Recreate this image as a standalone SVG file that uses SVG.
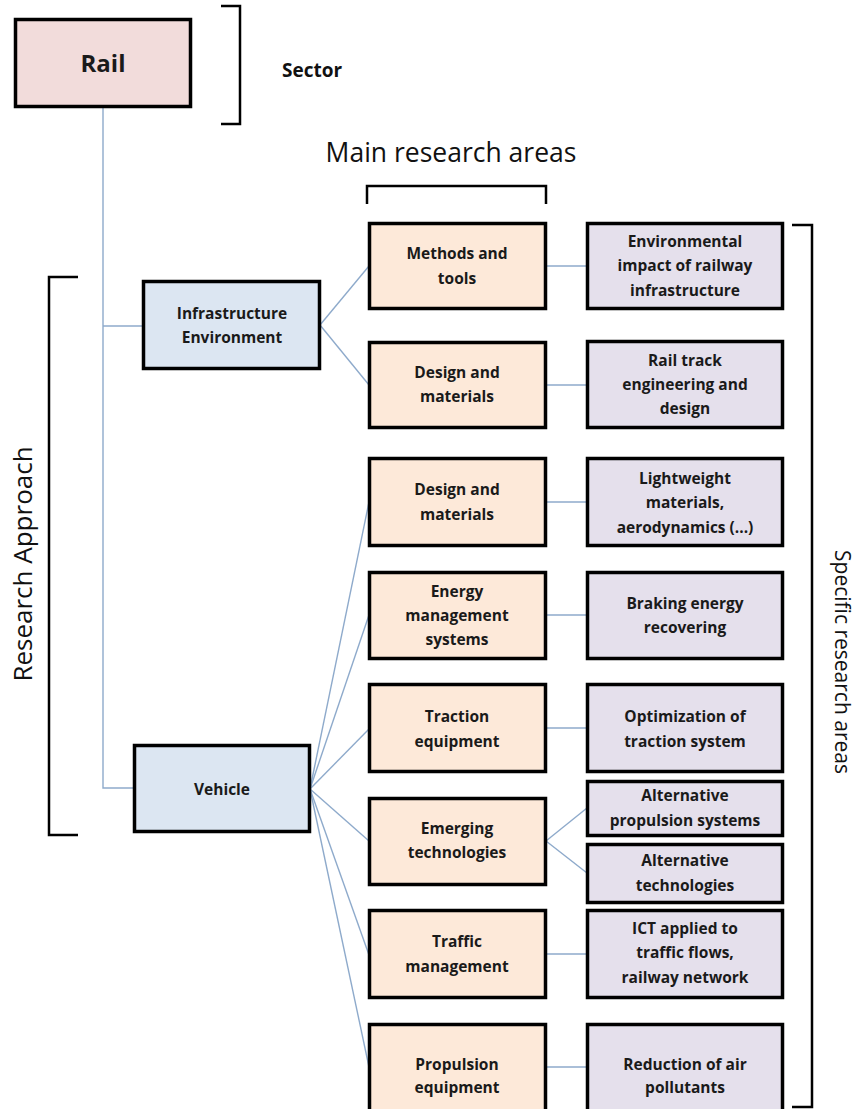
<svg xmlns="http://www.w3.org/2000/svg" width="860" height="1109" viewBox="0 0 860 1109">
<style>
.box{stroke:#000;stroke-width:3.5}
.rail{fill:#f2dcdb}
.blue{fill:#dce6f2}
.org{fill:#fde9d9}
.pur{fill:#e5e0ec}
.t{font-family:"Open Sans","Noto Sans",sans-serif;font-weight:700;font-size:15.5px;fill:#1a1a1a;text-anchor:middle}
.big{font-family:"Open Sans","Noto Sans",sans-serif;font-size:26px;fill:#111;font-weight:500}
.br{fill:none;stroke:#000;stroke-width:2.5}
.c{fill:none;stroke:#8eaacb;stroke-width:1.4}
</style>
<rect width="860" height="1109" fill="#fff"/>
<g id="connectors">
<polyline class="c" points="103,108 103,788 135,788"/>
<line class="c" x1="103" y1="326" x2="144" y2="326"/>
<line class="c" x1="320" y1="325" x2="369" y2="266"/>
<line class="c" x1="320" y1="325" x2="369" y2="385"/>
<line class="c" x1="310" y1="789" x2="369" y2="502"/>
<line class="c" x1="310" y1="789" x2="369" y2="615"/>
<line class="c" x1="310" y1="789" x2="369" y2="729"/>
<line class="c" x1="310" y1="789" x2="369" y2="841"/>
<line class="c" x1="310" y1="789" x2="369" y2="955"/>
<line class="c" x1="310" y1="789" x2="369" y2="1067"/>
<line class="c" x1="546" y1="266" x2="587" y2="266"/>
<line class="c" x1="546" y1="385" x2="587" y2="385"/>
<line class="c" x1="546" y1="502" x2="587" y2="502"/>
<line class="c" x1="546" y1="615" x2="587" y2="615"/>
<line class="c" x1="546" y1="728" x2="587" y2="728"/>
<line class="c" x1="546" y1="841" x2="587" y2="808"/>
<line class="c" x1="546" y1="841" x2="587" y2="873"/>
<line class="c" x1="546" y1="954" x2="587" y2="954"/>
<line class="c" x1="546" y1="1067" x2="587" y2="1067"/>
</g>
<g id="brackets">
<polyline class="br" points="221,6 240,6 240,124 221,124"/>
<polyline class="br" points="367,204 367,186 546,186 546,204"/>
<polyline class="br" points="78,277 49,277 49,835 78,835"/>
<polyline class="br" points="792,225 812,225 812,1107 792,1107"/>
</g>
<g id="labels">
<text class="big" x="282" y="77" style="font-weight:700;font-size:19px">Sector</text>
<text class="big" x="451" y="162" text-anchor="middle" style="font-size:26.5px">Main research areas</text>
<text class="big" transform="translate(32,564) rotate(-90)" text-anchor="middle">Research Approach</text>
<text class="big" transform="translate(835,662) rotate(90)" text-anchor="middle" style="font-size:21px">Specific research areas</text>
</g>
<g id="n-rail"><rect class="box rail" x="15.5" y="19.5" width="175" height="87"/><text class="t" x="103" y="72" style="font-size:24px">Rail</text></g>
<g id="n-infra"><rect class="box blue" x="143.5" y="281.5" width="176" height="87"/><text class="t" x="232" y="319">Infrastructure</text><text class="t" x="232" y="343">Environment</text></g>
<g id="n-vehicle"><rect class="box blue" x="134.5" y="745.5" width="175" height="86"/><text class="t" x="222" y="795">Vehicle</text></g>
<g id="n-methods"><rect class="box org" x="369.5" y="223.5" width="176" height="85"/><text class="t" x="457" y="259">Methods and</text><text class="t" x="457" y="284">tools</text></g>
<g id="n-design1"><rect class="box org" x="369.5" y="342.5" width="176" height="85"/><text class="t" x="457" y="378">Design and</text><text class="t" x="457" y="402">materials</text></g>
<g id="n-design2"><rect class="box org" x="369.5" y="458.5" width="176" height="87"/><text class="t" x="457" y="495">Design and</text><text class="t" x="457" y="520">materials</text></g>
<g id="n-energy"><rect class="box org" x="369.5" y="572.5" width="176" height="86"/><text class="t" x="457" y="597">Energy</text><text class="t" x="457" y="621">management</text><text class="t" x="457" y="645">systems</text></g>
<g id="n-traction"><rect class="box org" x="369.5" y="684.5" width="176" height="87"/><text class="t" x="457" y="722">Traction</text><text class="t" x="457" y="747">equipment</text></g>
<g id="n-emerging"><rect class="box org" x="369.5" y="798.5" width="176" height="86"/><text class="t" x="457" y="834">Emerging</text><text class="t" x="457" y="858">technologies</text></g>
<g id="n-traffic"><rect class="box org" x="369.5" y="910.5" width="176" height="87"/><text class="t" x="457" y="947">Traffic</text><text class="t" x="457" y="972">management</text></g>
<g id="n-propulsion"><rect class="box org" x="369.5" y="1024.5" width="176" height="90"/><text class="t" x="457" y="1070">Propulsion</text><text class="t" x="457" y="1093">equipment</text></g>
<g id="n-env"><rect class="box pur" x="587.5" y="223.5" width="195" height="85"/><text class="t" x="685" y="247">Environmental</text><text class="t" x="685" y="271">impact of railway</text><text class="t" x="685" y="296">infrastructure</text></g>
<g id="n-railtrack"><rect class="box pur" x="587.5" y="341.5" width="195" height="86"/><text class="t" x="685" y="366">Rail track</text><text class="t" x="685" y="390">engineering and</text><text class="t" x="685" y="414">design</text></g>
<g id="n-lightweight"><rect class="box pur" x="587.5" y="458.5" width="195" height="87"/><text class="t" x="685" y="484">Lightweight</text><text class="t" x="685" y="508">materials,</text><text class="t" x="685" y="533">aerodynamics (...)</text></g>
<g id="n-braking"><rect class="box pur" x="587.5" y="572.5" width="195" height="86"/><text class="t" x="685" y="609">Braking energy</text><text class="t" x="685" y="633">recovering</text></g>
<g id="n-optimization"><rect class="box pur" x="587.5" y="684.5" width="195" height="87"/><text class="t" x="685" y="722">Optimization of</text><text class="t" x="685" y="747">traction system</text></g>
<g id="n-altprop"><rect class="box pur" x="587.5" y="781.5" width="195" height="54"/><text class="t" x="685" y="801">Alternative</text><text class="t" x="685" y="826">propulsion systems</text></g>
<g id="n-alttech"><rect class="box pur" x="587.5" y="844.5" width="195" height="58"/><text class="t" x="685" y="866">Alternative</text><text class="t" x="685" y="891">technologies</text></g>
<g id="n-ict"><rect class="box pur" x="587.5" y="910.5" width="195" height="87"/><text class="t" x="685" y="934">ICT applied to</text><text class="t" x="685" y="958">traffic flows,</text><text class="t" x="685" y="983">railway network</text></g>
<g id="n-reduction"><rect class="box pur" x="587.5" y="1024.5" width="195" height="90"/><text class="t" x="685" y="1070">Reduction of air</text><text class="t" x="685" y="1093">pollutants</text></g>
</svg>
